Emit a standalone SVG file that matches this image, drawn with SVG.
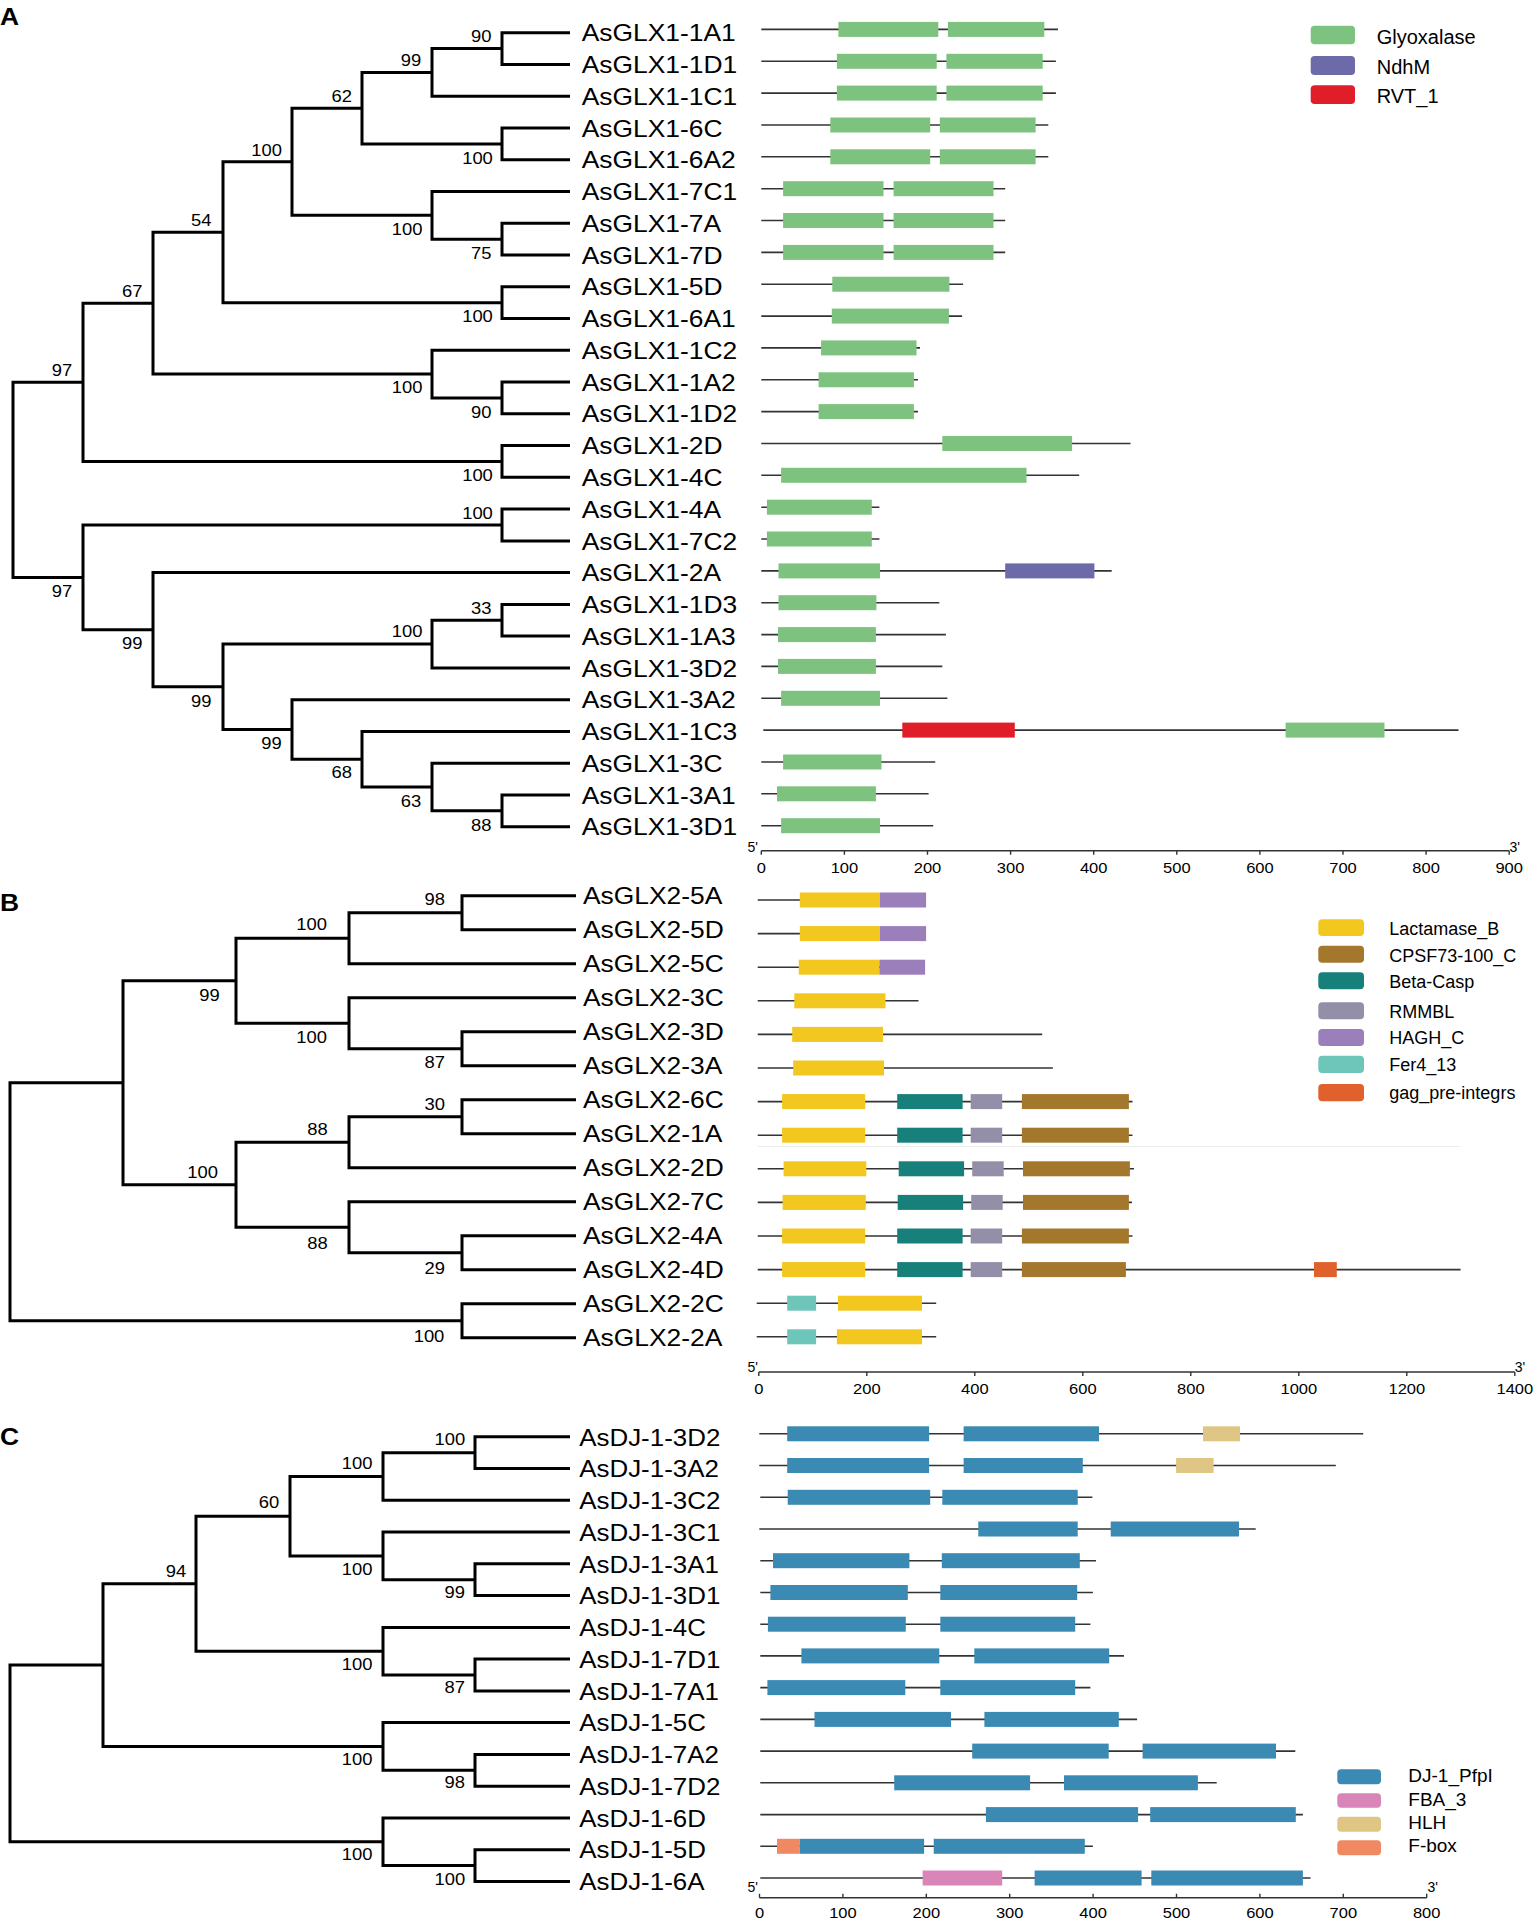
<svg xmlns="http://www.w3.org/2000/svg" width="1535" height="1919" viewBox="0 0 1535 1919">
<style>
text{font-family:"Liberation Sans",Arial,sans-serif;fill:#000}
.br{fill:none;stroke:#000;stroke-width:3;stroke-linejoin:miter}
.bb{stroke:#333;stroke-width:1.6}
.ax{stroke:#333;stroke-width:1.4;fill:none}
.leaf{font-size:24px}
.bs{font-size:16px;text-anchor:middle}
.tk{font-size:15px;text-anchor:middle}
.pr{font-size:14px;text-anchor:middle}
.pl{font-size:24px;font-weight:bold}
.lgA{font-size:20px}
.lgB{font-size:18px}
.lgC{font-size:19px}
.gly{fill:#7DC27E}.ndh{fill:#6D6AAA}.rvt{fill:#E01E2A}
.lac{fill:#F2C71F}.cps{fill:#A3772C}.bet{fill:#17807A}.rmm{fill:#938FA8}.hag{fill:#9A7FBB}.fer{fill:#6EC5BA}.gag{fill:#E0612B}
.dj{fill:#3A8AB4}.fba{fill:#D985B8}.hlh{fill:#E0C684}.fbx{fill:#F08961}
</style>

<!-- panel labels -->
<text class="pl" transform="translate(0,25) scale(1.1,1)">A</text>
<text class="pl" transform="translate(0,911) scale(1.1,1)">B</text>
<text class="pl" transform="translate(0,1445) scale(1.1,1)">C</text>

<!-- tree connectors -->
<g id="connectors">
<g id="treeA">
<path class="br" d="M570 32.7 H502 V64.5 H570"/>
<path class="br" d="M502 48.6 H432 V96.2 H570"/>
<path class="br" d="M570 128 H502 V159.7 H570"/>
<path class="br" d="M432 72.4 H362 V143.9 H502"/>
<path class="br" d="M570 223.3 H502 V255 H570"/>
<path class="br" d="M570 191.5 H432 V239.2 H502"/>
<path class="br" d="M362 108.2 H292 V215.3 H432"/>
<path class="br" d="M570 286.8 H502 V318.5 H570"/>
<path class="br" d="M292 161.8 H223 V302.7 H502"/>
<path class="br" d="M570 382.1 H502 V413.8 H570"/>
<path class="br" d="M570 350.3 H432 V398 H502"/>
<path class="br" d="M223 232.2 H153 V374.1 H432"/>
<path class="br" d="M570 445.6 H502 V477.3 H570"/>
<path class="br" d="M153 303.2 H83 V461.4 H502"/>
<path class="br" d="M570 509.1 H502 V540.9 H570"/>
<path class="br" d="M570 604.4 H502 V636.1 H570"/>
<path class="br" d="M502 620.2 H432 V667.9 H570"/>
<path class="br" d="M570 794.9 H502 V826.7 H570"/>
<path class="br" d="M570 763.2 H432 V810.8 H502"/>
<path class="br" d="M570 731.4 H362 V787 H432"/>
<path class="br" d="M570 699.7 H292 V759.2 H362"/>
<path class="br" d="M432 644.1 H223 V729.4 H292"/>
<path class="br" d="M570 572.6 H153 V686.8 H223"/>
<path class="br" d="M502 525 H83 V629.7 H153"/>
<path class="br" d="M83 382.3 H13 V577.4 H83"/>
</g>
<g id="treeB">
<path class="br" d="M576 895.7 H462 V929.7 H576"/>
<path class="br" d="M462 912.7 H349 V963.7 H576"/>
<path class="br" d="M576 1031.7 H462 V1065.7 H576"/>
<path class="br" d="M576 997.7 H349 V1048.7 H462"/>
<path class="br" d="M349 938.2 H236 V1023.2 H349"/>
<path class="br" d="M576 1099.7 H462 V1133.7 H576"/>
<path class="br" d="M462 1116.7 H349 V1167.7 H576"/>
<path class="br" d="M576 1235.7 H462 V1269.7 H576"/>
<path class="br" d="M576 1201.7 H349 V1252.7 H462"/>
<path class="br" d="M349 1142.2 H236 V1227.2 H349"/>
<path class="br" d="M236 980.7 H123 V1184.7 H236"/>
<path class="br" d="M576 1303.7 H462 V1337.7 H576"/>
<path class="br" d="M123 1082.7 H10 V1320.7 H462"/>
</g>
<g id="treeC">
<path class="br" d="M570 1436.8 H475 V1468.6 H570"/>
<path class="br" d="M475 1452.7 H383 V1500.3 H570"/>
<path class="br" d="M570 1563.8 H475 V1595.6 H570"/>
<path class="br" d="M570 1532.1 H383 V1579.7 H475"/>
<path class="br" d="M383 1476.5 H290 V1555.9 H383"/>
<path class="br" d="M570 1659.1 H475 V1690.9 H570"/>
<path class="br" d="M570 1627.4 H383 V1675 H475"/>
<path class="br" d="M290 1516.2 H196 V1651.2 H383"/>
<path class="br" d="M570 1754.4 H475 V1786.2 H570"/>
<path class="br" d="M570 1722.6 H383 V1770.3 H475"/>
<path class="br" d="M196 1583.7 H103 V1746.5 H383"/>
<path class="br" d="M570 1849.7 H475 V1881.4 H570"/>
<path class="br" d="M570 1817.9 H383 V1865.6 H475"/>
<path class="br" d="M103 1665.1 H10 V1841.7 H383"/>
</g>
</g>

<!-- bootstrap values -->
<g id="bootstrapA">
<text class="bs" transform="translate(481.3,42.4) scale(1.15,1)">90</text>
<text class="bs" transform="translate(411,65.7) scale(1.15,1)">99</text>
<text class="bs" transform="translate(341.7,102.4) scale(1.15,1)">62</text>
<text class="bs" transform="translate(266.6,155.7) scale(1.15,1)">100</text>
<text class="bs" transform="translate(201.2,225.7) scale(1.15,1)">54</text>
<text class="bs" transform="translate(132.3,296.7) scale(1.15,1)">67</text>
<text class="bs" transform="translate(62,375.7) scale(1.15,1)">97</text>
<text class="bs" transform="translate(477.5,164) scale(1.15,1)">100</text>
<text class="bs" transform="translate(407.2,235) scale(1.15,1)">100</text>
<text class="bs" transform="translate(481.3,259) scale(1.15,1)">75</text>
<text class="bs" transform="translate(477.5,322.4) scale(1.15,1)">100</text>
<text class="bs" transform="translate(407.2,393.4) scale(1.15,1)">100</text>
<text class="bs" transform="translate(481.3,418) scale(1.15,1)">90</text>
<text class="bs" transform="translate(477.5,481.4) scale(1.15,1)">100</text>
<text class="bs" transform="translate(477.5,519) scale(1.15,1)">100</text>
<text class="bs" transform="translate(62,597.4) scale(1.15,1)">97</text>
<text class="bs" transform="translate(132.3,649) scale(1.15,1)">99</text>
<text class="bs" transform="translate(481.3,614) scale(1.15,1)">33</text>
<text class="bs" transform="translate(407.2,637.4) scale(1.15,1)">100</text>
<text class="bs" transform="translate(201.2,706.7) scale(1.15,1)">99</text>
<text class="bs" transform="translate(271.4,749) scale(1.15,1)">99</text>
<text class="bs" transform="translate(341.7,778.4) scale(1.15,1)">68</text>
<text class="bs" transform="translate(411,806.7) scale(1.15,1)">63</text>
<text class="bs" transform="translate(481.3,830.7) scale(1.15,1)">88</text>
</g>
<g id="bootstrapB">
<text class="bs" transform="translate(434.8,904.7) scale(1.15,1)">98</text>
<text class="bs" transform="translate(311.7,929.7) scale(1.15,1)">100</text>
<text class="bs" transform="translate(209.4,1000.7) scale(1.15,1)">99</text>
<text class="bs" transform="translate(311.7,1043) scale(1.15,1)">100</text>
<text class="bs" transform="translate(434.8,1068.4) scale(1.15,1)">87</text>
<text class="bs" transform="translate(434.8,1109.7) scale(1.15,1)">30</text>
<text class="bs" transform="translate(317.5,1135) scale(1.15,1)">88</text>
<text class="bs" transform="translate(202.6,1177.7) scale(1.15,1)">100</text>
<text class="bs" transform="translate(317.5,1249) scale(1.15,1)">88</text>
<text class="bs" transform="translate(434.8,1274) scale(1.15,1)">29</text>
<text class="bs" transform="translate(429,1342.4) scale(1.15,1)">100</text>
</g>
<g id="bootstrapC">
<text class="bs" transform="translate(449.8,1444.7) scale(1.15,1)">100</text>
<text class="bs" transform="translate(357.2,1468.7) scale(1.15,1)">100</text>
<text class="bs" transform="translate(269,1508.2) scale(1.15,1)">60</text>
<text class="bs" transform="translate(357.2,1574.7) scale(1.15,1)">100</text>
<text class="bs" transform="translate(454.7,1597.9) scale(1.15,1)">99</text>
<text class="bs" transform="translate(176,1576.5) scale(1.15,1)">94</text>
<text class="bs" transform="translate(357.2,1669.6) scale(1.15,1)">100</text>
<text class="bs" transform="translate(454.7,1692.8) scale(1.15,1)">87</text>
<text class="bs" transform="translate(357.2,1764.8) scale(1.15,1)">100</text>
<text class="bs" transform="translate(454.7,1788.1) scale(1.15,1)">98</text>
<text class="bs" transform="translate(357.2,1860.1) scale(1.15,1)">100</text>
<text class="bs" transform="translate(449.8,1884.8) scale(1.15,1)">100</text>
</g>

<!-- ===== Panel A leaves ===== -->
<g id="AsGLX1-1A1"><text class="leaf" transform="translate(581.7,41.3) scale(1.1,1)">AsGLX1-1A1</text>
<line class="bb" x1="761.3" y1="29.4" x2="1058" y2="29.4"/><rect class="gly" x="838.4" y="21.9" width="99.9" height="15"/><rect class="gly" x="947.9" y="21.9" width="96.4" height="15"/></g>
<g id="AsGLX1-1D1"><text class="leaf" transform="translate(581.7,73.1) scale(1.1,1)">AsGLX1-1D1</text>
<line class="bb" x1="761.3" y1="61.3" x2="1055.9" y2="61.3"/><rect class="gly" x="836.9" y="53.8" width="99.8" height="15"/><rect class="gly" x="946.4" y="53.8" width="96.3" height="15"/></g>
<g id="AsGLX1-1C1"><text class="leaf" transform="translate(581.7,104.8) scale(1.1,1)">AsGLX1-1C1</text>
<line class="bb" x1="761.3" y1="93.1" x2="1055.9" y2="93.1"/><rect class="gly" x="836.9" y="85.6" width="99.8" height="15"/><rect class="gly" x="946.4" y="85.6" width="96.3" height="15"/></g>
<g id="AsGLX1-6C"><text class="leaf" transform="translate(581.7,136.6) scale(1.1,1)">AsGLX1-6C</text>
<line class="bb" x1="761.3" y1="125" x2="1048.3" y2="125"/><rect class="gly" x="830.3" y="117.5" width="99.9" height="15"/><rect class="gly" x="939.8" y="117.5" width="95.8" height="15"/></g>
<g id="AsGLX1-6A2"><text class="leaf" transform="translate(581.7,168.3) scale(1.1,1)">AsGLX1-6A2</text>
<line class="bb" x1="761.3" y1="156.8" x2="1048.3" y2="156.8"/><rect class="gly" x="830.3" y="149.3" width="99.9" height="15"/><rect class="gly" x="939.8" y="149.3" width="95.8" height="15"/></g>
<g id="AsGLX1-7C1"><text class="leaf" transform="translate(581.7,200.1) scale(1.1,1)">AsGLX1-7C1</text>
<line class="bb" x1="761.3" y1="188.7" x2="1005.2" y2="188.7"/><rect class="gly" x="783.1" y="181.2" width="100.4" height="15"/><rect class="gly" x="893.6" y="181.2" width="99.9" height="15"/></g>
<g id="AsGLX1-7A"><text class="leaf" transform="translate(581.7,231.9) scale(1.1,1)">AsGLX1-7A</text>
<line class="bb" x1="761.3" y1="220.5" x2="1005.2" y2="220.5"/><rect class="gly" x="783.1" y="213" width="100.4" height="15"/><rect class="gly" x="893.6" y="213" width="99.9" height="15"/></g>
<g id="AsGLX1-7D"><text class="leaf" transform="translate(581.7,263.6) scale(1.1,1)">AsGLX1-7D</text>
<line class="bb" x1="761.3" y1="252.4" x2="1005.2" y2="252.4"/><rect class="gly" x="783.1" y="244.9" width="100.4" height="15"/><rect class="gly" x="893.6" y="244.9" width="99.9" height="15"/></g>
<g id="AsGLX1-5D"><text class="leaf" transform="translate(581.7,295.4) scale(1.1,1)">AsGLX1-5D</text>
<line class="bb" x1="761.3" y1="284.2" x2="963.1" y2="284.2"/><rect class="gly" x="832.3" y="276.7" width="117.1" height="15"/></g>
<g id="AsGLX1-6A1"><text class="leaf" transform="translate(581.7,327.1) scale(1.1,1)">AsGLX1-6A1</text>
<line class="bb" x1="761.3" y1="316.1" x2="962.1" y2="316.1"/><rect class="gly" x="831.8" y="308.6" width="117.1" height="15"/></g>
<g id="AsGLX1-1C2"><text class="leaf" transform="translate(581.7,358.9) scale(1.1,1)">AsGLX1-1C2</text>
<line class="bb" x1="761.3" y1="347.9" x2="920" y2="347.9"/><rect class="gly" x="821.1" y="340.4" width="95.4" height="15"/></g>
<g id="AsGLX1-1A2"><text class="leaf" transform="translate(581.7,390.7) scale(1.1,1)">AsGLX1-1A2</text>
<line class="bb" x1="761.3" y1="379.8" x2="918" y2="379.8"/><rect class="gly" x="818.6" y="372.3" width="95.3" height="15"/></g>
<g id="AsGLX1-1D2"><text class="leaf" transform="translate(581.7,422.4) scale(1.1,1)">AsGLX1-1D2</text>
<line class="bb" x1="761.3" y1="411.6" x2="918" y2="411.6"/><rect class="gly" x="818.6" y="404.1" width="95.3" height="15"/></g>
<g id="AsGLX1-2D"><text class="leaf" transform="translate(581.7,454.2) scale(1.1,1)">AsGLX1-2D</text>
<line class="bb" x1="761.3" y1="443.5" x2="1130.5" y2="443.5"/><rect class="gly" x="942.3" y="436" width="129.8" height="15"/></g>
<g id="AsGLX1-4C"><text class="leaf" transform="translate(581.7,485.9) scale(1.1,1)">AsGLX1-4C</text>
<line class="bb" x1="761.3" y1="475.3" x2="1079.2" y2="475.3"/><rect class="gly" x="781.1" y="467.8" width="245.4" height="15"/></g>
<g id="AsGLX1-4A"><text class="leaf" transform="translate(581.7,517.7) scale(1.1,1)">AsGLX1-4A</text>
<line class="bb" x1="761.3" y1="507.2" x2="879.4" y2="507.2"/><rect class="gly" x="766.9" y="499.7" width="104.9" height="15"/></g>
<g id="AsGLX1-7C2"><text class="leaf" transform="translate(581.7,549.5) scale(1.1,1)">AsGLX1-7C2</text>
<line class="bb" x1="761.3" y1="539" x2="879.4" y2="539"/><rect class="gly" x="766.9" y="531.5" width="104.9" height="15"/></g>
<g id="AsGLX1-2A"><text class="leaf" transform="translate(581.7,581.2) scale(1.1,1)">AsGLX1-2A</text>
<line class="bb" x1="761.3" y1="570.9" x2="1111.7" y2="570.9"/><rect class="gly" x="778.5" y="563.4" width="101.5" height="15"/><rect class="ndh" x="1005.2" y="563.4" width="89.2" height="15"/></g>
<g id="AsGLX1-1D3"><text class="leaf" transform="translate(581.7,613) scale(1.1,1)">AsGLX1-1D3</text>
<line class="bb" x1="761.3" y1="602.7" x2="939.3" y2="602.7"/><rect class="gly" x="778.5" y="595.2" width="97.9" height="15"/></g>
<g id="AsGLX1-1A3"><text class="leaf" transform="translate(581.7,644.7) scale(1.1,1)">AsGLX1-1A3</text>
<line class="bb" x1="761.3" y1="634.6" x2="945.9" y2="634.6"/><rect class="gly" x="778" y="627.1" width="97.9" height="15"/></g>
<g id="AsGLX1-3D2"><text class="leaf" transform="translate(581.7,676.5) scale(1.1,1)">AsGLX1-3D2</text>
<line class="bb" x1="761.3" y1="666.4" x2="942.3" y2="666.4"/><rect class="gly" x="778" y="658.9" width="97.9" height="15"/></g>
<g id="AsGLX1-3A2"><text class="leaf" transform="translate(581.7,708.3) scale(1.1,1)">AsGLX1-3A2</text>
<line class="bb" x1="761.3" y1="698.3" x2="947.4" y2="698.3"/><rect class="gly" x="781.1" y="690.8" width="98.9" height="15"/></g>
<g id="AsGLX1-1C3"><text class="leaf" transform="translate(581.7,740) scale(1.1,1)">AsGLX1-1C3</text>
<line class="bb" x1="763.3" y1="730.1" x2="1458.5" y2="730.1"/><rect class="rvt" x="902.3" y="722.6" width="112.5" height="15"/><rect class="gly" x="1285.6" y="722.6" width="98.9" height="15"/></g>
<g id="AsGLX1-3C"><text class="leaf" transform="translate(581.7,771.8) scale(1.1,1)">AsGLX1-3C</text>
<line class="bb" x1="761.3" y1="762" x2="935.2" y2="762"/><rect class="gly" x="783.1" y="754.5" width="98.4" height="15"/></g>
<g id="AsGLX1-3A1"><text class="leaf" transform="translate(581.7,803.5) scale(1.1,1)">AsGLX1-3A1</text>
<line class="bb" x1="761.3" y1="793.8" x2="928.6" y2="793.8"/><rect class="gly" x="777" y="786.3" width="98.9" height="15"/></g>
<g id="AsGLX1-3D1"><text class="leaf" transform="translate(581.7,835.3) scale(1.1,1)">AsGLX1-3D1</text>
<line class="bb" x1="761.3" y1="825.7" x2="933.2" y2="825.7"/><rect class="gly" x="781.1" y="818.2" width="98.9" height="15"/></g>

<!-- axis A -->
<g id="axisA">
<path class="ax" d="M761.3 850.7 H1509.2 M761.3 850.7 v4 M844.4 850.7 v4 M927.5 850.7 v4 M1010.6 850.7 v4 M1093.7 850.7 v4 M1176.8 850.7 v4 M1259.9 850.7 v4 M1343 850.7 v4 M1426.1 850.7 v4 M1509.2 850.7 v4"/>
<text class="pr" x="752.7" y="852">5'</text><text class="pr" x="1514.8" y="852">3'</text>
<text class="tk" transform="translate(761.3,873) scale(1.1,1)">0</text>
<text class="tk" transform="translate(844.4,873) scale(1.1,1)">100</text>
<text class="tk" transform="translate(927.5,873) scale(1.1,1)">200</text>
<text class="tk" transform="translate(1010.6,873) scale(1.1,1)">300</text>
<text class="tk" transform="translate(1093.7,873) scale(1.1,1)">400</text>
<text class="tk" transform="translate(1176.8,873) scale(1.1,1)">500</text>
<text class="tk" transform="translate(1259.9,873) scale(1.1,1)">600</text>
<text class="tk" transform="translate(1343,873) scale(1.1,1)">700</text>
<text class="tk" transform="translate(1426.1,873) scale(1.1,1)">800</text>
<text class="tk" transform="translate(1509.2,873) scale(1.1,1)">900</text>
</g>

<!-- legend A -->
<g id="legendA">
<rect class="gly" x="1310.7" y="25.7" width="44.3" height="18.6" rx="4"/><text class="lgA" x="1376.7" y="43.5">Glyoxalase</text>
<rect class="ndh" x="1310.7" y="56" width="44.3" height="19" rx="4"/><text class="lgA" x="1376.7" y="73.8">NdhM</text>
<rect class="rvt" x="1310.7" y="85.3" width="44.3" height="18.7" rx="4"/><text class="lgA" x="1376.7" y="103">RVT_1</text>
</g>

<!-- ===== Panel B leaves ===== -->
<g id="AsGLX2-5A"><text class="leaf" transform="translate(583,904.3) scale(1.1,1)">AsGLX2-5A</text>
<line class="bb" x1="757.7" y1="900" x2="926" y2="900"/><rect class="lac" x="799.8" y="892.5" width="80.2" height="15"/><rect class="hag" x="880" y="892.5" width="46.1" height="15"/></g>
<g id="AsGLX2-5D"><text class="leaf" transform="translate(583,938.3) scale(1.1,1)">AsGLX2-5D</text>
<line class="bb" x1="757.7" y1="933.6" x2="926" y2="933.6"/><rect class="lac" x="799.8" y="926.1" width="80.2" height="15"/><rect class="hag" x="880" y="926.1" width="46.1" height="15"/></g>
<g id="AsGLX2-5C"><text class="leaf" transform="translate(583,972.3) scale(1.1,1)">AsGLX2-5C</text>
<line class="bb" x1="757.7" y1="967.2" x2="925" y2="967.2"/><rect class="lac" x="798.8" y="959.7" width="80.6" height="15"/><rect class="hag" x="879.4" y="959.7" width="45.7" height="15"/></g>
<g id="AsGLX2-3C"><text class="leaf" transform="translate(583,1006.3) scale(1.1,1)">AsGLX2-3C</text>
<line class="bb" x1="757.7" y1="1000.8" x2="918.5" y2="1000.8"/><rect class="lac" x="794.3" y="993.3" width="91.2" height="15"/></g>
<g id="AsGLX2-3D"><text class="leaf" transform="translate(583,1040.3) scale(1.1,1)">AsGLX2-3D</text>
<line class="bb" x1="757.7" y1="1034.4" x2="1042.2" y2="1034.4"/><rect class="lac" x="792.2" y="1026.9" width="90.8" height="15"/></g>
<g id="AsGLX2-3A"><text class="leaf" transform="translate(583,1074.3) scale(1.1,1)">AsGLX2-3A</text>
<line class="bb" x1="757.7" y1="1068" x2="1052.9" y2="1068"/><rect class="lac" x="793.2" y="1060.5" width="90.8" height="15"/></g>
<g id="AsGLX2-6C"><text class="leaf" transform="translate(583,1108.3) scale(1.1,1)">AsGLX2-6C</text>
<line class="bb" x1="757.7" y1="1101.6" x2="1132.5" y2="1101.6"/><rect class="lac" x="782.1" y="1094.1" width="83.1" height="15"/><rect class="bet" x="897.2" y="1094.1" width="65.4" height="15"/><rect class="rmm" x="970.7" y="1094.1" width="31.5" height="15"/><rect class="cps" x="1021.9" y="1094.1" width="107" height="15"/></g>
<g id="AsGLX2-1A"><text class="leaf" transform="translate(583,1142.3) scale(1.1,1)">AsGLX2-1A</text>
<line class="bb" x1="757.7" y1="1135.2" x2="1132.5" y2="1135.2"/><rect class="lac" x="782.1" y="1127.7" width="83.1" height="15"/><rect class="bet" x="897.2" y="1127.7" width="65.4" height="15"/><rect class="rmm" x="970.7" y="1127.7" width="31.5" height="15"/><rect class="cps" x="1021.9" y="1127.7" width="107" height="15"/></g>
<line x1="757.7" y1="1146.5" x2="1460" y2="1146.5" stroke="#ececec" stroke-width="1"/>
<g id="AsGLX2-2D"><text class="leaf" transform="translate(583,1176.3) scale(1.1,1)">AsGLX2-2D</text>
<line class="bb" x1="757.7" y1="1168.8" x2="1134" y2="1168.8"/><rect class="lac" x="783.6" y="1161.3" width="82.7" height="15"/><rect class="bet" x="898.7" y="1161.3" width="65.4" height="15"/><rect class="rmm" x="972.2" y="1161.3" width="31.5" height="15"/><rect class="cps" x="1023" y="1161.3" width="106.9" height="15"/></g>
<g id="AsGLX2-7C"><text class="leaf" transform="translate(583,1210.3) scale(1.1,1)">AsGLX2-7C</text>
<line class="bb" x1="757.7" y1="1202.4" x2="1132" y2="1202.4"/><rect class="lac" x="782.6" y="1194.9" width="83.2" height="15"/><rect class="bet" x="897.7" y="1194.9" width="65.4" height="15"/><rect class="rmm" x="971.2" y="1194.9" width="31.5" height="15"/><rect class="cps" x="1023" y="1194.9" width="105.9" height="15"/></g>
<g id="AsGLX2-4A"><text class="leaf" transform="translate(583,1244.3) scale(1.1,1)">AsGLX2-4A</text>
<line class="bb" x1="757.7" y1="1236" x2="1132.5" y2="1236"/><rect class="lac" x="782.1" y="1228.5" width="83.1" height="15"/><rect class="bet" x="897.2" y="1228.5" width="65.4" height="15"/><rect class="rmm" x="970.7" y="1228.5" width="31.5" height="15"/><rect class="cps" x="1021.9" y="1228.5" width="107" height="15"/></g>
<g id="AsGLX2-4D"><text class="leaf" transform="translate(583,1278.3) scale(1.1,1)">AsGLX2-4D</text>
<line class="bb" x1="757.7" y1="1269.6" x2="1460.6" y2="1269.6"/><rect class="lac" x="782.1" y="1262.1" width="83.1" height="15"/><rect class="bet" x="897.2" y="1262.1" width="65.4" height="15"/><rect class="rmm" x="970.7" y="1262.1" width="31.5" height="15"/><rect class="cps" x="1021.9" y="1262.1" width="104" height="15"/><rect class="gag" x="1314" y="1262.1" width="22.8" height="15"/></g>
<g id="AsGLX2-2C"><text class="leaf" transform="translate(583,1312.3) scale(1.1,1)">AsGLX2-2C</text>
<line class="bb" x1="756.7" y1="1303.2" x2="936.2" y2="1303.2"/><rect class="fer" x="787.2" y="1295.7" width="28.9" height="15"/><rect class="lac" x="837.9" y="1295.7" width="84.1" height="15"/></g>
<g id="AsGLX2-2A"><text class="leaf" transform="translate(583,1346.3) scale(1.1,1)">AsGLX2-2A</text>
<line class="bb" x1="756.7" y1="1336.8" x2="936.2" y2="1336.8"/><rect class="fer" x="787.2" y="1329.3" width="28.9" height="15"/><rect class="lac" x="836.9" y="1329.3" width="85.1" height="15"/></g>

<!-- axis B -->
<g id="axisB">
<path class="ax" d="M758.8 1372 H1514.8 M758.8 1372 v4 M866.8 1372 v4 M974.8 1372 v4 M1082.8 1372 v4 M1190.8 1372 v4 M1298.8 1372 v4 M1406.8 1372 v4 M1514.8 1372 v4"/>
<text class="pr" x="752.7" y="1372">5'</text><text class="pr" x="1519.9" y="1372">3'</text>
<text class="tk" transform="translate(758.8,1394) scale(1.1,1)">0</text>
<text class="tk" transform="translate(866.8,1394) scale(1.1,1)">200</text>
<text class="tk" transform="translate(974.8,1394) scale(1.1,1)">400</text>
<text class="tk" transform="translate(1082.8,1394) scale(1.1,1)">600</text>
<text class="tk" transform="translate(1190.8,1394) scale(1.1,1)">800</text>
<text class="tk" transform="translate(1298.8,1394) scale(1.1,1)">1000</text>
<text class="tk" transform="translate(1406.8,1394) scale(1.1,1)">1200</text>
<text class="tk" transform="translate(1514.8,1394) scale(1.1,1)">1400</text>
</g>

<!-- legend B -->
<g id="legendB">
<rect class="lac" x="1318.3" y="919.3" width="45.7" height="16.7" rx="4"/><text class="lgB" x="1389.3" y="935">Lactamase_B</text>
<rect class="cps" x="1318.3" y="945.7" width="45.7" height="17" rx="4"/><text class="lgB" x="1389.3" y="961.7">CPSF73-100_C</text>
<rect class="bet" x="1318.3" y="972.3" width="45.7" height="17" rx="4"/><text class="lgB" x="1389.3" y="987.8">Beta-Casp</text>
<rect class="rmm" x="1318.3" y="1002.3" width="45.7" height="17" rx="4"/><text class="lgB" x="1389.3" y="1017.5">RMMBL</text>
<rect class="hag" x="1318.3" y="1029" width="45.7" height="17" rx="4"/><text class="lgB" x="1389.3" y="1044.3">HAGH_C</text>
<rect class="fer" x="1318.3" y="1055.7" width="45.7" height="17.3" rx="4"/><text class="lgB" x="1389.3" y="1071">Fer4_13</text>
<rect class="gag" x="1318.3" y="1084" width="45.7" height="17.3" rx="4"/><text class="lgB" x="1389.3" y="1098.5">gag_pre-integrs</text>
</g>

<!-- ===== Panel C leaves ===== -->
<g id="AsDJ-1-3D2"><text class="leaf" transform="translate(579.2,1445.5) scale(1.08,1)">AsDJ-1-3D2</text>
<line class="bb" x1="759.3" y1="1433.8" x2="1363.2" y2="1433.8"/><rect class="dj" x="787.2" y="1426.3" width="141.9" height="15"/><rect class="dj" x="963.6" y="1426.3" width="135.4" height="15"/><rect class="hlh" x="1203" y="1426.3" width="37" height="15"/></g>
<g id="AsDJ-1-3A2"><text class="leaf" transform="translate(579.2,1477.3) scale(1.08,1)">AsDJ-1-3A2</text>
<line class="bb" x1="759.3" y1="1465.5" x2="1335.8" y2="1465.5"/><rect class="dj" x="787.2" y="1458" width="141.9" height="15"/><rect class="dj" x="963.6" y="1458" width="119.2" height="15"/><rect class="hlh" x="1176.1" y="1458" width="37.5" height="15"/></g>
<g id="AsDJ-1-3C2"><text class="leaf" transform="translate(579.2,1509) scale(1.08,1)">AsDJ-1-3C2</text>
<line class="bb" x1="760.3" y1="1497.3" x2="1092.4" y2="1497.3"/><rect class="dj" x="787.7" y="1489.8" width="142.5" height="15"/><rect class="dj" x="942.3" y="1489.8" width="135.4" height="15"/></g>
<g id="AsDJ-1-3C1"><text class="leaf" transform="translate(579.2,1540.8) scale(1.08,1)">AsDJ-1-3C1</text>
<line class="bb" x1="759.3" y1="1529" x2="1255.7" y2="1529"/><rect class="dj" x="978.3" y="1521.5" width="99.4" height="15"/><rect class="dj" x="1110.7" y="1521.5" width="128.3" height="15"/></g>
<g id="AsDJ-1-3A1"><text class="leaf" transform="translate(579.2,1572.5) scale(1.08,1)">AsDJ-1-3A1</text>
<line class="bb" x1="760.3" y1="1560.7" x2="1096" y2="1560.7"/><rect class="dj" x="773" y="1553.2" width="136.4" height="15"/><rect class="dj" x="941.8" y="1553.2" width="138" height="15"/></g>
<g id="AsDJ-1-3D1"><text class="leaf" transform="translate(579.2,1604.3) scale(1.08,1)">AsDJ-1-3D1</text>
<line class="bb" x1="760.3" y1="1592.5" x2="1092.9" y2="1592.5"/><rect class="dj" x="770.4" y="1585" width="137.4" height="15"/><rect class="dj" x="940.3" y="1585" width="136.9" height="15"/></g>
<g id="AsDJ-1-4C"><text class="leaf" transform="translate(579.2,1636.1) scale(1.08,1)">AsDJ-1-4C</text>
<line class="bb" x1="760.3" y1="1624.2" x2="1090.4" y2="1624.2"/><rect class="dj" x="767.9" y="1616.7" width="137.9" height="15"/><rect class="dj" x="940.3" y="1616.7" width="134.9" height="15"/></g>
<g id="AsDJ-1-7D1"><text class="leaf" transform="translate(579.2,1667.8) scale(1.08,1)">AsDJ-1-7D1</text>
<line class="bb" x1="760.3" y1="1655.9" x2="1123.9" y2="1655.9"/><rect class="dj" x="801.4" y="1648.4" width="137.9" height="15"/><rect class="dj" x="974.3" y="1648.4" width="134.9" height="15"/></g>
<g id="AsDJ-1-7A1"><text class="leaf" transform="translate(579.2,1699.6) scale(1.08,1)">AsDJ-1-7A1</text>
<line class="bb" x1="760.3" y1="1687.6" x2="1090.4" y2="1687.6"/><rect class="dj" x="767.4" y="1680.1" width="137.9" height="15"/><rect class="dj" x="940.3" y="1680.1" width="134.9" height="15"/></g>
<g id="AsDJ-1-5C"><text class="leaf" transform="translate(579.2,1731.3) scale(1.08,1)">AsDJ-1-5C</text>
<line class="bb" x1="760.3" y1="1719.4" x2="1137.1" y2="1719.4"/><rect class="dj" x="814.5" y="1711.9" width="136.5" height="15"/><rect class="dj" x="984.4" y="1711.9" width="134.4" height="15"/></g>
<g id="AsDJ-1-7A2"><text class="leaf" transform="translate(579.2,1763.1) scale(1.08,1)">AsDJ-1-7A2</text>
<line class="bb" x1="760.3" y1="1751.1" x2="1295.3" y2="1751.1"/><rect class="dj" x="972.2" y="1743.6" width="136.5" height="15"/><rect class="dj" x="1142.6" y="1743.6" width="133.4" height="15"/></g>
<g id="AsDJ-1-7D2"><text class="leaf" transform="translate(579.2,1794.9) scale(1.08,1)">AsDJ-1-7D2</text>
<line class="bb" x1="760.3" y1="1782.8" x2="1216.7" y2="1782.8"/><rect class="dj" x="894.2" y="1775.3" width="135.9" height="15"/><rect class="dj" x="1064" y="1775.3" width="133.9" height="15"/></g>
<g id="AsDJ-1-6D"><text class="leaf" transform="translate(579.2,1826.6) scale(1.08,1)">AsDJ-1-6D</text>
<line class="bb" x1="760.3" y1="1814.6" x2="1302.9" y2="1814.6"/><rect class="dj" x="985.9" y="1807.1" width="152.2" height="15"/><rect class="dj" x="1150.2" y="1807.1" width="145.6" height="15"/></g>
<g id="AsDJ-1-5D"><text class="leaf" transform="translate(579.2,1858.4) scale(1.08,1)">AsDJ-1-5D</text>
<line class="bb" x1="760.3" y1="1846.3" x2="1092.9" y2="1846.3"/><rect class="fbx" x="777" y="1838.8" width="22.8" height="15"/><rect class="dj" x="799.8" y="1838.8" width="124.3" height="15"/><rect class="dj" x="933.7" y="1838.8" width="151.1" height="15"/></g>
<g id="AsDJ-1-6A"><text class="leaf" transform="translate(579.2,1890.1) scale(1.08,1)">AsDJ-1-6A</text>
<line class="bb" x1="760.3" y1="1878" x2="1310.5" y2="1878"/><rect class="fba" x="922.6" y="1870.5" width="79.6" height="15"/><rect class="dj" x="1034.6" y="1870.5" width="107" height="15"/><rect class="dj" x="1151.3" y="1870.5" width="151.6" height="15"/></g>

<!-- axis C -->
<g id="axisC">
<path class="ax" d="M759.5 1897.7 H1426.7 M759.5 1897.7 v-4 M842.9 1897.7 v-4 M926.3 1897.7 v-4 M1009.7 1897.7 v-4 M1093.1 1897.7 v-4 M1176.5 1897.7 v-4 M1259.9 1897.7 v-4 M1343.3 1897.7 v-4 M1426.7 1897.7 v-4"/>
<text class="pr" x="752.7" y="1892">5'</text><text class="pr" x="1432.7" y="1892">3'</text>
<text class="tk" transform="translate(759.5,1918) scale(1.1,1)">0</text>
<text class="tk" transform="translate(842.9,1918) scale(1.1,1)">100</text>
<text class="tk" transform="translate(926.3,1918) scale(1.1,1)">200</text>
<text class="tk" transform="translate(1009.7,1918) scale(1.1,1)">300</text>
<text class="tk" transform="translate(1093.1,1918) scale(1.1,1)">400</text>
<text class="tk" transform="translate(1176.5,1918) scale(1.1,1)">500</text>
<text class="tk" transform="translate(1259.9,1918) scale(1.1,1)">600</text>
<text class="tk" transform="translate(1343.3,1918) scale(1.1,1)">700</text>
<text class="tk" transform="translate(1426.7,1918) scale(1.1,1)">800</text>
</g>

<!-- legend C -->
<g id="legendC">
<rect class="dj" x="1337.3" y="1769.3" width="43.7" height="15" rx="4"/><text class="lgC" x="1408.3" y="1782.3">DJ-1_PfpI</text>
<rect class="fba" x="1337.3" y="1793.3" width="43.7" height="14.4" rx="4"/><text class="lgC" x="1408.3" y="1805.7">FBA_3</text>
<rect class="hlh" x="1337.3" y="1816.7" width="43.7" height="15" rx="4"/><text class="lgC" x="1408.3" y="1828.6">HLH</text>
<rect class="fbx" x="1337.3" y="1840.3" width="43.7" height="15" rx="4"/><text class="lgC" x="1408.3" y="1851.8">F-box</text>
</g>
</svg>
